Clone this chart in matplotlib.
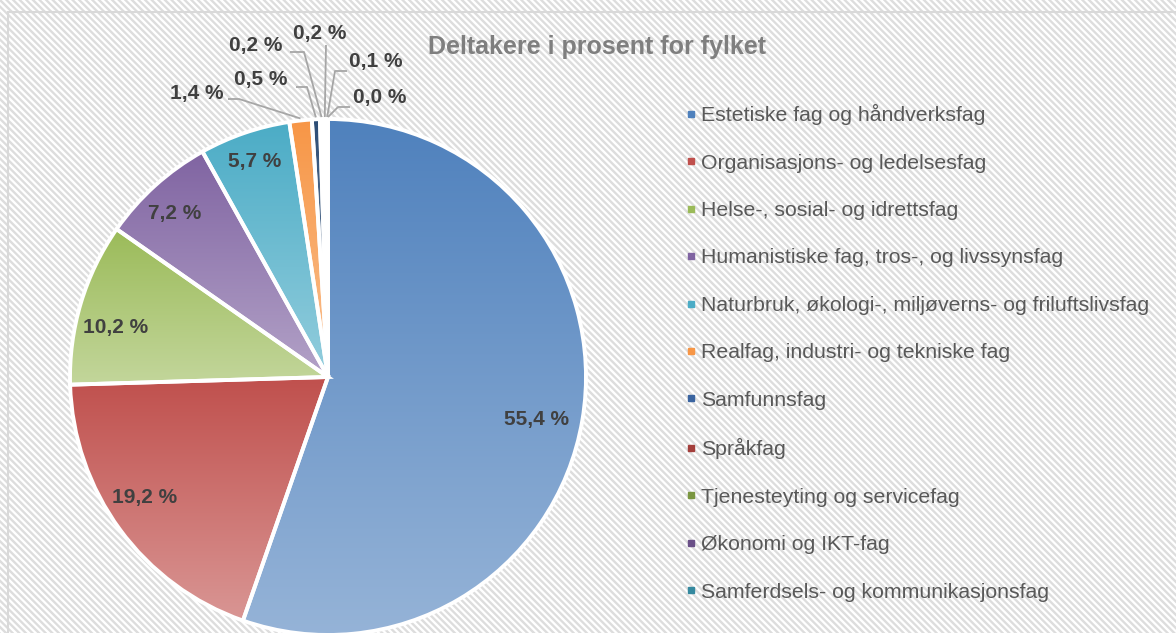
import numpy as np
import matplotlib
matplotlib.use("Agg")
import matplotlib.pyplot as plt
from matplotlib.lines import Line2D
from matplotlib.patches import Rectangle
from matplotlib.colors import to_rgb

plt.rcParams['font.family'] = ['Liberation Sans', 'DejaVu Sans']

# ---------------- data ----------------
categories = [
    "Estetiske fag og håndverksfag",
    "Organisasjons- og ledelsesfag",
    "Helse-, sosial- og idrettsfag",
    "Humanistiske fag, tros-, og livssynsfag",
    "Naturbruk, økologi-, miljøverns- og friluftslivsfag",
    "Realfag, industri- og tekniske fag",
    "Samfunnsfag",
    "Språkfag",
    "Tjenesteyting og servicefag",
    "Økonomi og IKT-fag",
    "Samferdsels- og kommunikasjonsfag",
]
values = [55.4, 19.2, 10.2, 7.2, 5.7, 1.4, 0.5, 0.2, 0.2, 0.1, 0.0]
value_labels = ["55,4 %", "19,2 %", "10,2 %", "7,2 %", "5,7 %", "1,4 %",
                "0,5 %", "0,2 %", "0,2 %", "0,1 %", "0,0 %"]
colors = ["#4F81BD", "#C0504D", "#9BBB59", "#8064A2", "#4BACC6", "#F79646",
          "#2C4D75", "#772C2A", "#5F7530", "#4D3B62", "#276A7C"]
legend_colors = ["#4F81BD", "#C0504D", "#9BBB59", "#8064A2", "#4BACC6", "#F79646",
                 "#3A64A0", "#A33E3B", "#7A9640", "#6A5088", "#35899F"]
title = "Deltakere i prosent for fylket"

# ---------------- layout ----------------
W, H = 1176, 633
fig = plt.figure(figsize=(W / 100, H / 100), dpi=100)
fig.patch.set_facecolor("white")

# striped background
yy, xx = np.mgrid[0:H, 0:W]
P = 6.6
phase = ((xx - yy) % P) / P
s = np.clip(1.6 * np.cos(2 * np.pi * phase), -1, 1) * 0.5 + 0.5
g = (255 - 34 * s) / 255.0
bg = np.dstack([g, g, g])
fig.figimage(bg, xo=0, yo=0, origin="upper", zorder=-5)

ax = fig.add_axes([0, 0, 1, 1])
ax.set_zorder(1)

cx, cy, R = 328, H - 377, 258
wedges, _ = ax.pie(values, startangle=90, counterclock=False, radius=R,
                   center=(cx, cy),
                   wedgeprops=dict(edgecolor="white", linewidth=2.8))

# gradient fill for each wedge
for w, c in zip(wedges, colors):
    ext = w.get_path().get_extents()
    x0, y0, x1, y1 = ext.x0, ext.y0, ext.x1, ext.y1
    base = np.array(to_rgb(c))
    light = base + (1 - base) * 0.40
    t = np.linspace(0, 1, 256)[:, None, None]
    arr = base[None, None, :] * (1 - t) + light[None, None, :] * t
    arr = np.repeat(arr, 2, axis=1)
    if x1 - x0 > 0.5 and y1 - y0 > 0.5:
        im = ax.imshow(arr, extent=(x0, x1, y0, y1), origin="upper",
                       aspect="auto", zorder=1, interpolation="bilinear")
        im.set_clip_path(w)
    w.set_facecolor("none")
    w.set_zorder(2)

ax.set_xlim(0, W)
ax.set_ylim(0, H)
ax.set_aspect("auto")
ax.axis("off")

# chart border
ax.add_patch(Rectangle((8, -20), W + 20, H - 12 + 20, fill=False,
                       ec="#d9d9d9", lw=1.5, zorder=0.5, clip_on=False))

lab_color = "#404040"
# inner label positions (pixel coords, y down)
in_text = {0: (537, 420), 1: (145, 497), 2: (116, 328), 3: (175, 214),
           4: (255, 162)}
for i, (tx, ty) in in_text.items():
    ax.text(tx, H - ty, value_labels[i], ha="center", va="center",
            fontsize=15, fontweight="bold", color=lab_color, zorder=5)

# outside labels with leader lines (positions in pixel coords, y down)
out_text = {5: (197, 93), 6: (261, 80), 7: (256, 45), 8: (320, 34),
            9: (376, 62), 10: (380, 98)}
out_elbow = {5: [(228, 99), (239, 99)], 6: [(296, 87), (307, 87)],
             7: [(290, 52), (304, 52)], 8: [(326, 45)],
             9: [(347, 71), (335, 71)], 10: [(350, 107), (338, 107)]}
for i, (tx, ty) in out_text.items():
    w = wedges[i]
    mid = np.deg2rad((w.theta1 + w.theta2) / 2)
    ex, ey = cx + R * np.cos(mid), cy + R * np.sin(mid)
    pts = [(px, H - py) for px, py in out_elbow[i]] + [(ex, ey + 2)]
    ax.plot([p[0] for p in pts], [p[1] for p in pts], color="#a6a6a6",
            lw=1.3, zorder=4, solid_capstyle="butt")
    ax.text(tx, H - ty, value_labels[i], ha="center", va="center",
            fontsize=15, fontweight="bold", color=lab_color, zorder=5)

# title
ax.text(597, H - 47, title, ha="center", va="center", fontsize=18,
        fontweight="bold", color="#7f7f7f", zorder=5)

# legend
handles = [Line2D([0], [0], marker="s", ls="none", markersize=4.4,
                  markerfacecolor=c, markeredgecolor=c) for c in legend_colors]
leg = ax.legend(handles, categories, loc="upper left",
                bbox_to_anchor=(685.7, H - 104), bbox_transform=ax.transData,
                frameon=False, fontsize=15.3, labelspacing=1.34,
                handlelength=0.5, handletextpad=0.2, borderpad=0,
                borderaxespad=0, labelcolor="#595959")
leg.set_zorder(6)

fig.savefig("out.png", dpi=100)
